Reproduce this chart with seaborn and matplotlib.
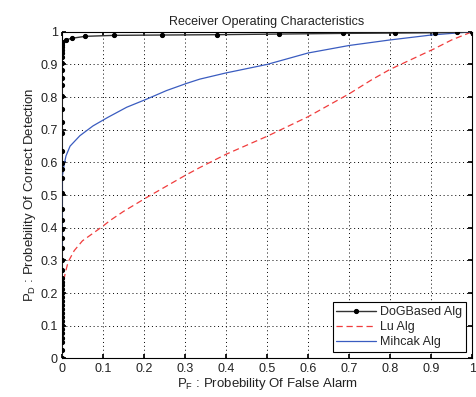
import matplotlib
matplotlib.use("Agg")
import matplotlib.pyplot as plt
import seaborn as sns
import pandas as pd

# ROC curves: false alarm rate (x) vs. probability of correct detection (y)
dog_pf = [0, 0, 0, 0, 0, 0, 0, 0, 0, 0, 0, 0, 0, 0, 0, 0, 0, 0, 0, 0, 0,
          0, 0, 0, 0, 0, 0, 0, 0, 0, 0, 0, 0, 0, 0, 0, 0, 0, 0, 0, 0, 0, 0,
          0, 0, 0,
          0.009, 0.024, 0.057, 0.128, 0.245, 0.377, 0.529, 0.685, 0.813,
          0.909, 0.963, 1.0]
dog_pd = [0.0, 0.027, 0.051, 0.063, 0.077, 0.09, 0.102, 0.114, 0.126, 0.139,
          0.151, 0.163, 0.175, 0.188, 0.2, 0.212, 0.224, 0.235, 0.245, 0.27,
          0.30, 0.339, 0.369, 0.395, 0.424, 0.459, 0.506, 0.553, 0.581,
          0.597, 0.636, 0.689, 0.724, 0.765, 0.803, 0.838, 0.86, 0.883,
          0.903, 0.924, 0.936, 0.944, 0.952, 0.96, 0.966, 0.97,
          0.975, 0.980, 0.986, 0.989, 0.990, 0.991, 0.993, 0.995, 0.996,
          0.997, 0.998, 1.0]

lu_pf = [0.0, 0.004, 0.008, 0.015, 0.03, 0.05, 0.1, 0.117, 0.15, 0.207, 0.3,
         0.337, 0.4, 0.5, 0.6, 0.7, 0.755, 0.8, 0.906, 0.95, 1.0]
lu_pd = [0.21, 0.235, 0.26, 0.295, 0.33, 0.36, 0.405, 0.422, 0.45, 0.493,
         0.56, 0.585, 0.625, 0.68, 0.74, 0.81, 0.853, 0.885, 0.947, 0.975, 1.0]

mih_pf = [0.0, 0.0, 0.005, 0.01, 0.02, 0.044, 0.076, 0.112, 0.158, 0.207,
          0.255, 0.304, 0.336, 0.4, 0.5, 0.6, 0.7, 0.8, 0.9, 0.97, 1.0]
mih_pd = [0.33, 0.55, 0.59, 0.62, 0.65, 0.682, 0.712, 0.738, 0.769, 0.794,
          0.82, 0.842, 0.855, 0.874, 0.900, 0.935, 0.958, 0.975, 0.99, 0.997,
          1.0]

ticks = [0, 0.1, 0.2, 0.3, 0.4, 0.5, 0.6, 0.7, 0.8, 0.9, 1]
tick_labels = ["0", "0.1", "0.2", "0.3", "0.4", "0.5", "0.6", "0.7", "0.8",
               "0.9", "1"]

sns.set_theme(style="white")
plt.rcParams["font.family"] = ["Liberation Sans", "DejaVu Sans"]
plt.rcParams["mathtext.fontset"] = "custom"
plt.rcParams["mathtext.rm"] = "Liberation Sans"
plt.rcParams["mathtext.it"] = "Liberation Sans"

fig = plt.figure(figsize=(4.76, 3.97), dpi=100)
ax = fig.add_axes([0.130, 0.097, 0.862, 0.823])

df_dog = pd.DataFrame({"pf": dog_pf, "pd": dog_pd})
df_lu = pd.DataFrame({"pf": lu_pf, "pd": lu_pd})
df_mih = pd.DataFrame({"pf": mih_pf, "pd": mih_pd})

sns.lineplot(data=df_dog, x="pf", y="pd", ax=ax, sort=False, estimator=None,
             color="#333333", lw=1.0, marker="o", markersize=3,
             markerfacecolor="black", markeredgecolor="black",
             label="DoGBased Alg", zorder=4)
sns.lineplot(data=df_lu, x="pf", y="pd", ax=ax, sort=False, estimator=None,
             color="#f03c3c", lw=0.9, label="Lu Alg", zorder=3)
ax.lines[-1].set_linestyle((0, (5, 3)))
sns.lineplot(data=df_mih, x="pf", y="pd", ax=ax, sort=False, estimator=None,
             color="#3a5cc0", lw=0.9, label="Mihcak Alg", zorder=3)

ax.set_xlim(0, 1)
ax.set_ylim(0, 1)
ax.set_xticks(ticks)
ax.set_xticklabels(tick_labels)
ax.set_yticks(ticks)
ax.set_yticklabels(tick_labels)
ax.tick_params(direction="in", length=3, labelsize=9, colors="black",
               labelcolor="#222222", top=True, right=True, bottom=True,
               left=True, pad=3)
ax.grid(True, linestyle=(0, (1, 3)), color="black", lw=0.7)
for s in ax.spines.values():
    s.set_color("black")
    s.set_linewidth(0.8)

ax.set_title("Receiver Operating Characteristics", fontsize=9,
             color="#222222", pad=5)
ax.set_xlabel("P$_F$ : Probebility Of False Alarm", fontsize=9.5,
              color="#222222", labelpad=1)
ax.set_ylabel("P$_D$ : Probebility Of Correct Detection", fontsize=9.5,
              color="#222222", labelpad=2)

leg = ax.legend(loc="lower right", fontsize=9, frameon=True, fancybox=False,
                edgecolor="black", framealpha=1, borderpad=0.3,
                handlelength=3.2, handletextpad=0.3, labelspacing=0.25,
                borderaxespad=0.5)
leg.get_frame().set_linewidth(0.8)

fig.savefig("out.png", dpi=100, facecolor="white")
